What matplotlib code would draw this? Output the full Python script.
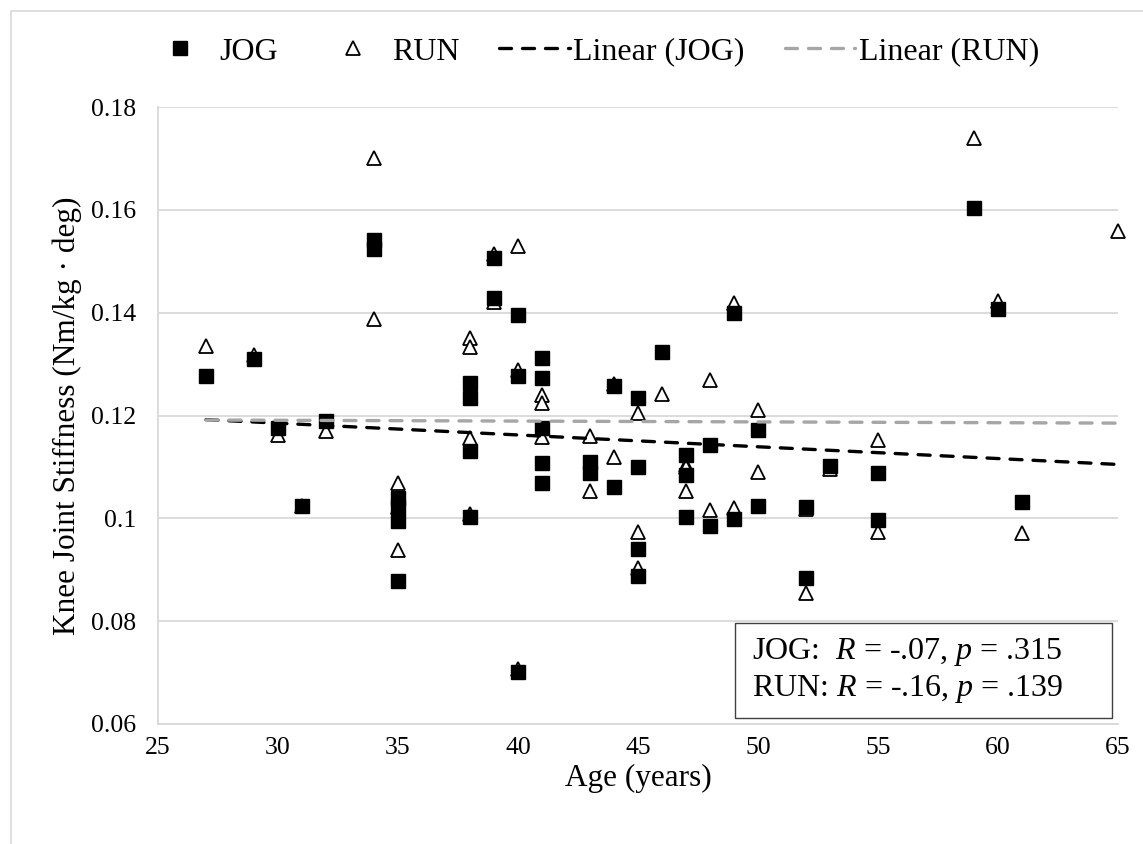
import numpy as np
import matplotlib
matplotlib.use("Agg")
import matplotlib.pyplot as plt
from matplotlib.lines import Line2D
from matplotlib.legend_handler import HandlerLine2D
from matplotlib.patches import Rectangle

plt.rcParams['font.family'] = ['Liberation Serif', 'DejaVu Serif']
plt.rcParams['mathtext.fontset'] = 'custom'
plt.rcParams['mathtext.rm'] = 'Liberation Serif'
plt.rcParams['mathtext.it'] = 'Liberation Serif:italic'

# --- data ---
jog_age = [27, 29, 30, 31, 32, 34, 34, 35, 35, 35, 35, 38, 38, 38, 38, 39, 39,
           40, 40, 40, 41, 41, 41, 41, 41, 43, 43, 44, 44, 45, 45, 45, 45, 46,
           47, 47, 47, 48, 48, 49, 49, 50, 50, 52, 52, 53, 55, 55, 59, 60, 61]
jog_k = [0.1277, 0.1310, 0.1175, 0.1024, 0.1190, 0.1541, 0.1524,
         0.1039, 0.1023, 0.0994, 0.0879, 0.1263, 0.1234, 0.1130, 0.1003,
         0.1506, 0.1428, 0.1395, 0.1277, 0.0702,
         0.1312, 0.1273, 0.1175, 0.1107, 0.1068, 0.1110, 0.1088,
         0.1257, 0.1060, 0.1235, 0.1099, 0.0940, 0.0887, 0.1324,
         0.1123, 0.1084, 0.1003, 0.1143, 0.0985, 0.1399, 0.0999,
         0.1172, 0.1024, 0.1023, 0.0883, 0.1102, 0.1088, 0.0997,
         0.1603, 0.1408, 0.1031]

# two RUN points sit hidden under JOG squares (31 and 35 years)
run_age = [27, 29, 30, 31, 32, 34, 34, 35, 35, 35, 38, 38, 38, 38, 39, 39,
           40, 40, 40, 41, 41, 41, 43, 43, 44, 44, 45, 45, 45, 46, 47, 47, 47,
           48, 48, 49, 49, 50, 50, 52, 52, 53, 55, 55, 59, 60, 61, 65]
run_k = [0.1336, 0.1318, 0.1163, 0.1024, 0.1170, 0.1700, 0.1388,
         0.1068, 0.1023, 0.0938,
         0.1350, 0.1334, 0.1156, 0.1008, 0.1515, 0.1420, 0.1530, 0.1289, 0.0707,
         0.1240, 0.1225, 0.1159, 0.1160, 0.1054, 0.1262, 0.1120,
         0.1204, 0.0974, 0.0903, 0.1242, 0.1104, 0.1100, 0.1054,
         0.1270, 0.1016, 0.1418, 0.1021, 0.1211, 0.1091, 0.1018, 0.0855,
         0.1095, 0.1152, 0.0974, 0.1739, 0.1423, 0.0971, 0.1559]

x_ticks = [25, 30, 35, 40, 45, 50, 55, 60, 65]
y_ticks = [0.06, 0.08, 0.10, 0.12, 0.14, 0.16, 0.18]
y_tick_labels = ['0.06', '0.08', '0.1', '0.12', '0.14', '0.16', '0.18']
stats_text = "JOG:  $R$ = -.07, $p$ = .315\nRUN: $R$ = -.16, $p$ = .139"

GRID = '#d9d9d9'
GRAY_LINE = '#a6a6a6'
DASH = (3.6, 3.3)


class RightMarker(HandlerLine2D):
    # put the legend marker close to the label, like Excel does
    def get_xdata(self, legend, xdescent, ydescent, width, height, fontsize):
        xdata, _ = super().get_xdata(legend, xdescent, ydescent, width, height, fontsize)
        return xdata, [-xdescent + width - 1.3 * fontsize]


fig = plt.figure(figsize=(11.43, 8.44), dpi=100)
ax = fig.add_axes([158 / 1143, 1 - 724 / 844, 960 / 1143, 617 / 844])

# outer chart frame
fig.patches.append(Rectangle((11 / 1143, -0.1), 1.2, 1 - 11 / 844 + 0.1,
                             transform=fig.transFigure, fill=False,
                             edgecolor=GRID, linewidth=1.2, zorder=0))

ax.plot(run_age, run_k, linestyle='none', marker='^', markersize=10.3,
        markerfacecolor='white', markeredgecolor='black', markeredgewidth=1.3,
        zorder=3, clip_on=False)
ax.plot(jog_age, jog_k, linestyle='none', marker='s', markersize=10.2,
        markerfacecolor='black', markeredgecolor='black', markeredgewidth=1.0,
        zorder=4, clip_on=False)

# linear trendlines (least squares) across the data range
x_min = min(min(jog_age), min(run_age))
x_max = max(max(jog_age), max(run_age))
xs = np.array([x_min, x_max])
jb = np.polyfit(jog_age, jog_k, 1)
rb = np.polyfit(run_age, run_k, 1)
ax.plot(xs, np.polyval(jb, xs), color='black', linewidth=2.4,
        dashes=DASH, dash_capstyle='round', zorder=5)
ax.plot(xs, np.polyval(rb, xs), color=GRAY_LINE, linewidth=2.4,
        dashes=DASH, dash_capstyle='round', zorder=5)

ax.set_xlim(25, 65)
ax.set_ylim(0.06, 0.18)
ax.set_xticks(x_ticks)
ax.set_yticks(y_ticks)
ax.set_yticklabels(y_tick_labels)
ax.tick_params(length=0, labelsize=18.5)
ax.tick_params(axis='y', pad=16)
ax.tick_params(axis='x', pad=9)
ax.grid(axis='y', color=GRID, linewidth=1.3)
ax.set_axisbelow(True)
for side in ['top', 'right']:
    ax.spines[side].set_visible(False)
for side in ['left', 'bottom']:
    ax.spines[side].set_color(GRID)
    ax.spines[side].set_linewidth(1.3)

ax.set_xlabel('Age (years)', fontsize=22.5)
ax.set_ylabel('Knee Joint Stiffness (Nm/kg · deg)', fontsize=22.5)
ax.xaxis.set_label_coords(0.5, -0.064)
ax.yaxis.set_label_coords(-0.079, 0.5)

# stats box (fixed size, like the Excel text box)
ax.add_patch(Rectangle((0.601, 0.0097), 0.393, 0.154, transform=ax.transAxes,
                       facecolor='white', edgecolor='#404040', linewidth=1.0,
                       zorder=6))
ax.text(0.619, 0.087, stats_text, transform=ax.transAxes, fontsize=23,
        ha='left', va='center', linespacing=1.2, zorder=7)

handles = [
    Line2D([], [], linestyle='none', marker='s', markersize=10.5, color='black'),
    Line2D([], [], linestyle='none', marker='^', markersize=10.3,
           markerfacecolor='white', markeredgecolor='black', markeredgewidth=1.3),
    Line2D([], [], color='black', linewidth=2.4, dashes=DASH, dash_capstyle='round'),
    Line2D([], [], color=GRAY_LINE, linewidth=2.4, dashes=DASH, dash_capstyle='round'),
]
labels = ['JOG', 'RUN', 'Linear (JOG)', 'Linear (RUN)']
fig.legend(handles, labels, loc='center', bbox_to_anchor=(0.518, 1 - 52 / 844),
           ncol=4, frameon=False, fontsize=23, handlelength=2.2,
           handletextpad=0.12, columnspacing=1.25, numpoints=1,
           handler_map={handles[0]: RightMarker(), handles[1]: RightMarker()})

fig.savefig('out.png', dpi=100)
